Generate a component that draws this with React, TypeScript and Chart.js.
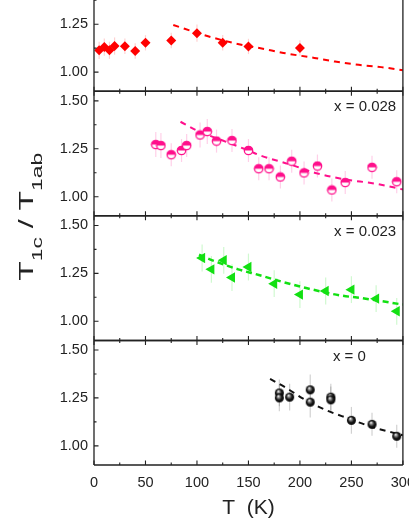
import React, { useEffect, useRef } from 'react';
import { Chart, registerables } from 'chart.js';

Chart.register(...registerables);

// ---------- data ----------
const xTickValues = [0, 50, 100, 150, 200, 250, 300];
const xMinorValues = [25, 75, 125, 175, 225, 275];
const yTickValues = [1.0, 1.25, 1.5];
const yMinorValues = [1.125, 1.375];
const xAxisTitle = 'T  (K)';
const panelLabels = ['', 'x = 0.028', 'x = 0.023', 'x = 0'];

// panel 1 (red diamonds)
const redT = [5, 10, 15, 20, 30, 40, 50, 75, 100, 125, 150, 200];
const redV = [1.114, 1.131, 1.114, 1.136, 1.135, 1.11, 1.153, 1.165, 1.203, 1.153, 1.134, 1.126];
const redErr = [0.045, 0.045, 0.045, 0.045, 0.04, 0.04, 0.04, 0.04, 0.045, 0.04, 0.04, 0.04];
const redFitT = [77, 110, 143, 164, 184, 214, 234, 257, 279, 300];
const redFitV = [1.246, 1.188, 1.143, 1.122, 1.1, 1.074, 1.055, 1.038, 1.026, 1.01];

// panel 2 (pink half-filled circles), x = 0.028
const pinkT = [60, 65, 75, 85, 90, 103, 110, 119, 134, 150, 160, 170, 181, 192, 204, 217, 231, 244, 270, 294];
const pinkV = [1.272, 1.267, 1.219, 1.241, 1.267, 1.322, 1.34, 1.29, 1.293, 1.241, 1.146, 1.146, 1.103, 1.185, 1.124, 1.16, 1.035, 1.074, 1.153, 1.078];
const pinkErr = [0.065, 0.065, 0.06, 0.06, 0.06, 0.065, 0.065, 0.06, 0.06, 0.06, 0.06, 0.06, 0.06, 0.06, 0.06, 0.06, 0.06, 0.06, 0.06, 0.06];
const pinkFitT = [84, 100, 125, 150, 161, 190, 215, 244, 272, 300];
const pinkFitV = [1.391, 1.345, 1.293, 1.241, 1.216, 1.169, 1.124, 1.09, 1.069, 1.038];

// panel 3 (green left triangles), x = 0.023
const greenT = [105, 114, 126, 134, 150, 175, 200, 225, 250, 274, 294];
const greenV = [1.33, 1.271, 1.318, 1.228, 1.283, 1.196, 1.139, 1.158, 1.165, 1.118, 1.052];
const greenErr = [0.07, 0.07, 0.07, 0.07, 0.07, 0.07, 0.07, 0.07, 0.07, 0.07, 0.07];
const greenFitT = [102, 115, 140, 161, 182, 207, 239, 261, 300];
const greenFitV = [1.347, 1.318, 1.271, 1.24, 1.207, 1.172, 1.135, 1.12, 1.087];

// panel 4 (black spheres), x = 0
const blackT = [180, 180, 190, 210, 210, 230, 230, 250, 270, 294];
const blackV = [1.276, 1.25, 1.254, 1.292, 1.228, 1.254, 1.24, 1.133, 1.112, 1.05];
const blackErr = [0.07, 0.07, 0.07, 0.08, 0.08, 0.07, 0.07, 0.07, 0.06, 0.06];
const blackFitT = [171, 187, 206, 226, 247, 268, 300];
const blackFitV = [1.349, 1.301, 1.237, 1.185, 1.143, 1.102, 1.055];

// ---------- styles ----------
const FONT = "'Liberation Sans', Arial, sans-serif";
const RED = '#ff0000';
const PINK = '#ff108c';
const GREEN = '#12e012';
const BLACK = '#111111';
const AXIS = '#222222';

const pts = (xs: number[], ys: number[]) => xs.map((x, i) => ({ x, y: ys[i] }));

function makePinkMarker() {
  const c = document.createElement('canvas');
  c.width = 11; c.height = 11;
  const g = c.getContext('2d')!;
  const cx = 5.5, cy = 5.5, r = 4.2;
  g.beginPath(); g.arc(cx, cy, r, 0, Math.PI * 2); g.fillStyle = '#fff'; g.fill();
  g.beginPath(); g.arc(cx, cy, r, Math.PI, Math.PI * 2); g.closePath(); g.fillStyle = PINK; g.fill();
  g.beginPath(); g.arc(cx, cy, r, 0, Math.PI * 2); g.lineWidth = 1.3; g.strokeStyle = PINK; g.stroke();
  return c;
}

function makeSphereMarker() {
  const c = document.createElement('canvas');
  c.width = 11; c.height = 11;
  const g = c.getContext('2d')!;
  const cx = 5.5, cy = 5.5, r = 4.5;
  const grad = g.createRadialGradient(cx - 1.2, cy - 1.8, 0.3, cx, cy, r);
  grad.addColorStop(0, '#f4f4f4');
  grad.addColorStop(0.25, '#8a8a8a');
  grad.addColorStop(0.6, '#1a1a1a');
  grad.addColorStop(1, '#000');
  g.beginPath(); g.arc(cx, cy, r, 0, Math.PI * 2); g.fillStyle = grad; g.fill();
  return c;
}

const errorStyles: Record<string, string> = {
  p1: 'rgba(255,0,0,0.18)',
  p2: 'rgba(255,16,140,0.2)',
  p3: 'rgba(18,224,18,0.2)',
  p4: 'rgba(0,0,0,0.18)',
};

const framePlugin = {
  id: 'frame',
  beforeDatasetsDraw(chart: any) {
    const ctx = chart.ctx;
    ctx.save();
    chart.data.datasets.forEach((ds: any, i: number) => {
      if (!ds.errors) return;
      const meta = chart.getDatasetMeta(i);
      const ys = chart.scales[ds.yAxisID];
      ctx.strokeStyle = errorStyles[ds.yAxisID];
      ctx.lineWidth = 1.2;
      meta.data.forEach((p: any, j: number) => {
        const v = ds.data[j].y;
        const e = ds.errors[j];
        ctx.beginPath();
        ctx.moveTo(p.x, ys.getPixelForValue(v - e));
        ctx.lineTo(p.x, ys.getPixelForValue(v + e));
        ctx.stroke();
      });
    });
    ctx.restore();
  },
  afterDatasetsDraw(chart: any) {
    const ctx = chart.ctx;
    const { left, right, top, bottom } = chart.chartArea;
    const xs = chart.scales.x;
    ctx.save();
    ctx.strokeStyle = AXIS;
    ctx.lineCap = 'butt';
    ['p1', 'p2', 'p3', 'p4'].forEach((id, k) => {
      const s = chart.scales[id];
      ctx.lineWidth = 1.5;
      ctx.beginPath();
      ctx.moveTo(left, s.top); ctx.lineTo(right, s.top);
      ctx.moveTo(left, s.bottom); ctx.lineTo(right, s.bottom);
      ctx.stroke();
      ctx.lineWidth = 1.1;
      ctx.beginPath();
      const tick = (v: number, len: number) => {
        const px = xs.getPixelForValue(v);
        ctx.moveTo(px, s.bottom); ctx.lineTo(px, s.bottom - len);
        ctx.moveTo(px, s.top); ctx.lineTo(px, s.top + len);
      };
      xTickValues.forEach(v => tick(v, 4.5));
      xMinorValues.forEach(v => tick(v, 2.5));
      yTickValues.forEach(v => { const py = s.getPixelForValue(v); ctx.moveTo(left, py); ctx.lineTo(left + 4.5, py); });
      yMinorValues.forEach(v => { const py = s.getPixelForValue(v); ctx.moveTo(left, py); ctx.lineTo(left + 2.5, py); });
      ctx.stroke();
      const lbl = panelLabels[k];
      if (lbl) {
        ctx.fillStyle = AXIS;
        ctx.font = `15px ${FONT}`;
        ctx.textBaseline = 'middle';
        if (k === 3) {
          ctx.textAlign = 'left';
          ctx.fillText(lbl, xs.getPixelForValue(232), s.top + 16.5);
        } else {
          ctx.textAlign = 'right';
          ctx.fillText(lbl, xs.getPixelForValue(293.5), s.top + 16);
        }
      }
    });
    ctx.lineWidth = 1.3;
    ctx.beginPath();
    ctx.moveTo(left, top); ctx.lineTo(left, bottom);
    ctx.moveTo(right, top); ctx.lineTo(right, bottom);
    ctx.stroke();

    // y-axis title with subscripts, stretched along the reading direction
    const segs: [string, boolean][] = [['T', false], ['1c', true], [' / T', false], ['1ab', true]];
    const mainFont = `21px ${FONT}`;
    const subFont = `15px ${FONT}`;
    let total = 0;
    const widths = segs.map(([t, sub]) => { ctx.font = sub ? subFont : mainFont; const w = ctx.measureText(t).width; total += w; return w; });
    const targetLen = 128;
    const sx = targetLen / total;
    const midY = chart.scales.p3.top + 1;
    ctx.translate(33, midY);
    ctx.rotate(-Math.PI / 2);
    ctx.scale(sx, 1);
    ctx.fillStyle = AXIS;
    ctx.textAlign = 'left';
    ctx.textBaseline = 'alphabetic';
    let cx = -total / 2;
    segs.forEach(([t, sub], i) => {
      ctx.font = sub ? subFont : mainFont;
      ctx.fillText(t, cx, sub ? 9 : 0);
      cx += widths[i];
    });
    ctx.restore();
  },
};

function yAxis() {
  return {
    type: 'linear',
    position: 'left',
    stack: 'panels',
    stackWeight: 1,
    min: 0.9,
    max: 1.55,
    grid: { display: false, drawTicks: false },
    border: { display: false },
    afterBuildTicks: (s: any) => { s.ticks = yTickValues.map(v => ({ value: v })); },
    afterFit: (s: any) => { s.width = 94; },
    ticks: { color: AXIS, font: { size: 14.5, family: FONT }, padding: 6, callback: (v: any) => Number(v).toFixed(2) },
  };
}

export default function App() {
  const ref = useRef<HTMLCanvasElement | null>(null);
  useEffect(() => {
    if (!ref.current) return;
    const pink = makePinkMarker();
    const sphere = makeSphereMarker();
    const fitLine = (xs: number[], ys: number[], color: string, axis: string, width: number, dash: number[]) => ({
      type: 'scatter',
      data: pts(xs, ys),
      yAxisID: axis,
      showLine: true,
      borderColor: color,
      borderWidth: width,
      borderDash: dash,
      pointRadius: 0,
      cubicInterpolationMode: 'monotone',
      order: 2,
    });
    const chart = new Chart(ref.current, {
      type: 'scatter',
      data: {
        datasets: [
          fitLine(redFitT, redFitV, RED, 'p1', 2, [6, 5]),
          fitLine(pinkFitT, pinkFitV, PINK, 'p2', 2, [6, 5]),
          fitLine(greenFitT, greenFitV, GREEN, 'p3', 2.5, [6, 4]),
          fitLine(blackFitT, blackFitV, BLACK, 'p4', 2, [6, 5]),
          { data: pts(redT, redV), errors: redErr, yAxisID: 'p1', pointStyle: 'rectRot', pointRadius: 5, backgroundColor: RED, borderColor: RED, borderWidth: 0, order: 1 },
          { data: pts(pinkT, pinkV), errors: pinkErr, yAxisID: 'p2', pointStyle: pink, pointRadius: 5, order: 1 },
          { data: pts(greenT, greenV), errors: greenErr, yAxisID: 'p3', pointStyle: 'triangle', rotation: 270, pointRadius: 6, backgroundColor: GREEN, borderColor: GREEN, borderWidth: 0, order: 1 },
          { data: pts(blackT, blackV), errors: blackErr, yAxisID: 'p4', pointStyle: sphere, pointRadius: 5, order: 1 },
        ] as any,
      },
      options: {
        animation: false,
        responsive: false,
        devicePixelRatio: 1,
        layout: { padding: { left: 0, right: 14, top: 5, bottom: 0 } },
        plugins: { legend: { display: false }, tooltip: { enabled: false } },
        scales: {
          x: {
            type: 'linear',
            position: 'bottom',
            min: 0,
            max: 300,
            grid: { display: false, drawTicks: false },
            border: { display: false },
            afterBuildTicks: (s: any) => { s.ticks = xTickValues.map(v => ({ value: v })); },
            afterFit: (s: any) => { s.height = 56; },
            ticks: { color: AXIS, font: { size: 14.5, family: FONT }, padding: 9, maxRotation: 0, autoSkip: false },
            title: { display: true, text: xAxisTitle, color: AXIS, font: { size: 21, family: FONT }, padding: { top: 0, bottom: 0 } },
          },
          p4: yAxis(),
          p3: yAxis(),
          p2: yAxis(),
          p1: yAxis(),
        } as any,
      },
      plugins: [framePlugin],
    } as any);
    return () => chart.destroy();
  }, []);
  return (
    <div style={{ position: 'fixed', left: 0, top: 0, width: 409, height: 529, overflow: 'hidden', background: '#fff' }}>
      <canvas ref={ref} width={424} height={569} style={{ position: 'absolute', left: 0, top: -48, width: 424, height: 569 }} />
    </div>
  );
}
